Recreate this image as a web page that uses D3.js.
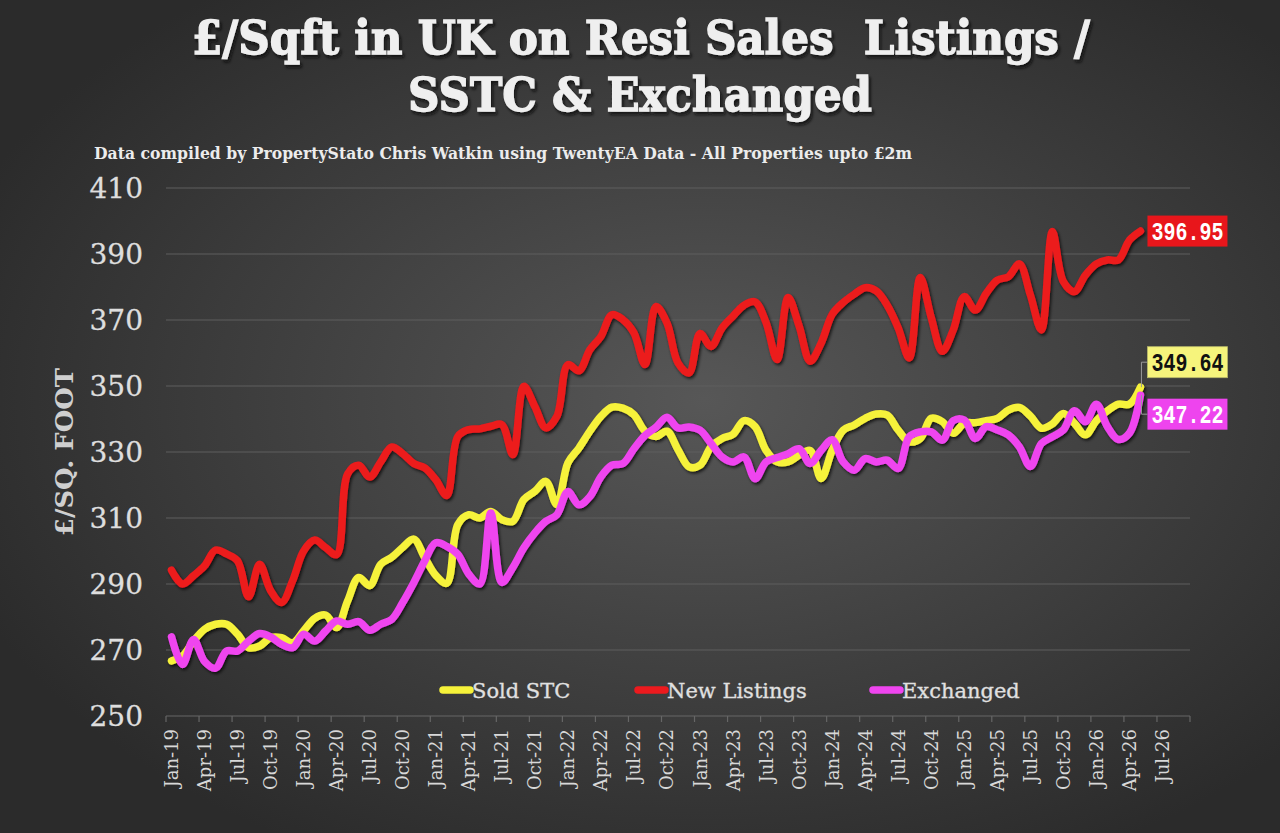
<!DOCTYPE html>
<html><head><meta charset="utf-8">
<script src="https://cdn.jsdelivr.net/npm/d3@7/dist/d3.min.js"></script>
<style>html,body{margin:0;padding:0;background:#3a3a3a;overflow:hidden}</style>
</head><body><svg id="c" width="1280" height="833"></svg>
<script>
const titleLines = ["£/Sqft in UK on Resi Sales  Listings /", "SSTC & Exchanged"];
const subtitle = "Data compiled by PropertyStato Chris Watkin using TwentyEA Data - All Properties upto £2m";
const yAxisTitle = "£/SQ. FOOT";
const seriesNames = ["Sold STC", "New Listings", "Exchanged"];
const seriesColors = ["#f6f23a", "#ec1a1e", "#ef45ef"];
const endLabels = ["349.64", "396.95", "347.22"];

// monthly values Jan-19 .. May-26
const soldSTC = [266.7,268.2,272.7,276.3,277.8,277.8,274.8,270.7,271.2,273.7,273.7,272.2,
  275.8,279.6,280.6,276.8,284.9,292,289.5,296,298.1,301.1,303.6,298,
  292.6,290.2,308,311,310,312,309.5,309,315.6,318.1,321.1,314,
  326.7,331.2,336.3,340.8,343.6,343.3,341.3,336.3,334.7,336.3,330.7,325.5,
  326,331.6,334.1,335.4,339.5,337.7,330.5,327,327,329,330.5,322,
  330.5,336.6,338.2,340.2,341.5,341.2,336.6,333.1,334.1,340.2,339.2,335.7,
  338.7,338.9,339.5,340.2,342.7,343.5,340.9,337.2,338.5,341.7,338.7,335.2,
  339.5,342.5,344.5,344.5,349.64];
const newListings = [294.2,290,292.5,295.5,300.3,299.1,297,286.1,296,288,284.4,291,
  300,303.3,301,298.9,323.4,326,322.4,327,331.5,329.5,326.5,325.2,
  321.6,316.8,334.7,336.8,337,337.8,338.3,329.2,349.9,343.8,337.3,340.8,
  356.5,354.6,361,365,371.6,370.1,366.1,356.5,374.1,369.1,357,354,
  365.9,362,367.6,371.2,374.5,375.5,369.2,358,376.8,368.2,357.5,363,
  371.7,375.3,377.8,379.8,378.8,374.5,367.6,358.5,382.9,370.7,360.5,367,
  377.1,373,378.1,382.1,383.1,387,377.6,367,396.8,381.6,378.6,383.6,
  387,388.2,388.2,394.2,396.95];
const exchanged = [274,265.6,273.2,266.5,264.5,269.7,269.7,272.7,275,274,271.7,270.7,
  274.8,272.7,275.8,278.8,277.8,278.6,276,277.8,279.3,284.4,290.4,297,
  302.5,301.4,299,293,290,311.5,290.5,295,301,305.5,309,311,
  318,314,316.5,322.5,326,326.5,331,335,337.5,340.5,337.3,337.6,
  336.6,332.6,328.5,327,328.5,321.9,327,328.3,329.5,331,326.5,330.5,
  333.7,327,324.5,328,327,327.5,325,334.6,336.1,336.1,333.6,339.5,
  339.7,334.1,337.7,336.7,335.2,331.6,325.6,332.6,334.6,336.7,342.5,339.2,
  344.5,337.7,333.8,335.7,347.22];

const yTicks = [250, 270, 290, 310, 330, 350, 370, 390, 410];
const xTickLabels = ["Jan-19","Apr-19","Jul-19","Oct-19","Jan-20","Apr-20","Jul-20","Oct-20",
  "Jan-21","Apr-21","Jul-21","Oct-21","Jan-22","Apr-22","Jul-22","Oct-22",
  "Jan-23","Apr-23","Jul-23","Oct-23","Jan-24","Apr-24","Jul-24","Oct-24",
  "Jan-25","Apr-25","Jul-25","Oct-25","Jan-26","Apr-26","Jul-26"];

// axis months: Jan-19 .. Sep-26 (category date axis)
const axisMonths = d3.timeMonth.range(new Date(2019, 0, 1), new Date(2026, 9, 1));
const dataMonths = axisMonths.slice(0, soldSTC.length);

const svg = d3.select("#c");
const W = 1280, H = 833;
const defs = svg.append("defs");
const rg = defs.append("radialGradient").attr("id", "bg").attr("cx", "55%").attr("cy", "48%").attr("r", "62%");
rg.append("stop").attr("offset", "0%").attr("stop-color", "#575757");
rg.append("stop").attr("offset", "100%").attr("stop-color", "#2b2b2b");
const sh = defs.append("filter").attr("id", "sh").attr("x", "-5%").attr("y", "-5%").attr("width", "110%").attr("height", "120%");
sh.append("feDropShadow").attr("dx", 1.5).attr("dy", 2).attr("stdDeviation", 1.5).attr("flood-color", "#000").attr("flood-opacity", 0.7);
const tsh = defs.append("filter").attr("id", "tsh");
tsh.append("feDropShadow").attr("dx", 2).attr("dy", 3).attr("stdDeviation", 1.5).attr("flood-color", "#111").attr("flood-opacity", 0.85);

svg.append("rect").attr("width", W).attr("height", H).attr("fill", "url(#bg)");

const x = d3.scaleBand().domain(axisMonths).range([166, 1190]).paddingInner(0).paddingOuter(0);
const bw = x.bandwidth();
const y = d3.scaleLinear().domain([250, 410]).range([716, 188]);
const xc = d => x(d) + bw / 2;

// gridlines
svg.append("g").selectAll("line").data(yTicks.filter(v => v > 250)).join("line")
  .attr("x1", 166).attr("x2", 1190).attr("y1", d => y(d)).attr("y2", d => y(d))
  .attr("stroke", "#5f5f5f").attr("stroke-width", 1.2);

// x axis line & ticks
const xa = svg.append("g");
xa.append("line").attr("x1", 166).attr("x2", 1190).attr("y1", y(250)).attr("y2", y(250))
  .attr("stroke", "#666").attr("stroke-width", 1.2);
const tickMonths = axisMonths.filter((d, i) => i % 3 === 0);
xa.selectAll("line.tk").data(tickMonths.map(d => x(d)).concat([x.range()[1]])).join("line").attr("class", "tk")
  .attr("x1", d => d).attr("x2", d => d).attr("y1", y(250)).attr("y2", y(250) + 6)
  .attr("stroke", "#666").attr("stroke-width", 1.2);
xa.selectAll("text").data(xTickLabels).join("text")
  .attr("transform", (d, i) => `translate(${xc(tickMonths[i])},729) rotate(-90)`)
  .attr("text-anchor", "end").attr("dy", "0.36em")
  .attr("font-family", "DejaVu Serif").attr("font-size", 18).attr("fill", "#d8d8d8")
  .text(d => d);

// y labels
svg.append("g").selectAll("text").data(yTicks).join("text")
  .attr("x", 143).attr("y", d => y(d)).attr("dy", "0.37em").attr("text-anchor", "end")
  .attr("font-family", "DejaVu Serif").attr("font-size", 28).attr("fill", "#dedede")
  .attr("stroke", "#dedede").attr("stroke-width", 0.3)
  .text(d => d);

// y axis title
svg.append("text").attr("transform", "translate(64,452) rotate(-90)")
  .attr("text-anchor", "middle").attr("dy", "0.36em")
  .attr("font-family", "DejaVu Serif").attr("font-weight", "bold").attr("font-size", 24)
  .attr("textLength", 168).attr("lengthAdjust", "spacingAndGlyphs")
  .attr("fill", "#cfcfcf").text(yAxisTitle);

// titles
const tl = svg.append("g").attr("filter", "url(#tsh)");
tl.append("text").attr("x", 641).attr("y", 54).attr("text-anchor", "middle")
  .attr("font-family", "DejaVu Serif").attr("font-weight", "bold").attr("font-size", 46)
  .attr("stroke", "#efefef").attr("stroke-width", 1.3)
  .attr("textLength", 898).attr("lengthAdjust", "spacingAndGlyphs").style("white-space", "pre")
  .attr("fill", "#efefef").text(titleLines[0]);
tl.append("text").attr("x", 640).attr("y", 111).attr("text-anchor", "middle")
  .attr("font-family", "DejaVu Serif").attr("font-weight", "bold").attr("font-size", 46)
  .attr("stroke", "#efefef").attr("stroke-width", 1.3)
  .attr("textLength", 464).attr("lengthAdjust", "spacingAndGlyphs")
  .attr("fill", "#efefef").text(titleLines[1]);
svg.append("text").attr("x", 94).attr("y", 159)
  .attr("font-family", "DejaVu Serif").attr("font-weight", "bold").attr("font-size", 16)
  .attr("textLength", 818).attr("lengthAdjust", "spacingAndGlyphs")
  .attr("fill", "#ececec").text(subtitle);

// lines
const series = [soldSTC, newListings, exchanged];
const line = d3.line().x((d, i) => xc(dataMonths[i])).y(d => y(d)).curve(d3.curveCatmullRom.alpha(0.5));
const lg = svg.append("g").attr("filter", "url(#sh)");
series.forEach((s, k) => {
  lg.append("path").attr("d", line(s)).attr("fill", "none")
    .attr("stroke", seriesColors[k]).attr("stroke-width", 7.5)
    .attr("stroke-linejoin", "round").attr("stroke-linecap", "round");
});

// legend
const legX = [443, 638, 873];
const leg = svg.append("g");
seriesNames.forEach((n, k) => {
  leg.append("line").attr("x1", legX[k]).attr("x2", legX[k] + 27).attr("y1", 690).attr("y2", 690)
    .attr("stroke", seriesColors[k]).attr("stroke-width", 7.5).attr("stroke-linecap", "round");
  leg.append("text").attr("x", legX[k] + 29).attr("y", 690).attr("dy", "0.36em")
    .attr("font-family", "DejaVu Serif").attr("font-size", 21).attr("fill", "#e0e0e0")
    .attr("stroke", "#e0e0e0").attr("stroke-width", 0.3).text(n);
});

// end labels
const last = dataMonths.length - 1;
const ex = xc(dataMonths[last]);
const boxFill = ["#f6f47c", "#e8161b", "#ee44ee"];
const boxText = ["#111", "#fff", "#fff"];
const boxShift = [-25, 0, 19];
series.forEach((s, k) => {
  const py = y(s[last]);
  const cy = py + boxShift[k];
  if (boxShift[k] !== 0) {
    svg.append("polyline").attr("points", `${ex + 1},${py} ${ex + 1},${cy} ${ex + 7},${cy}`)
      .attr("fill", "none").attr("stroke", "#9a9a9a").attr("stroke-width", 1);
  }
  svg.append("rect").attr("x", ex + 7).attr("y", cy - 15.5).attr("width", 80).attr("height", 31)
    .attr("fill", boxFill[k]).attr("stroke", k === 0 ? "#b8b86a" : "none").attr("stroke-width", 0.8);
  svg.append("text").attr("x", ex + 47).attr("y", cy).attr("dy", "0.36em").attr("text-anchor", "middle")
    .attr("font-family", "Liberation Mono").attr("font-weight", "bold").attr("font-size", 25)
    .attr("textLength", 72).attr("lengthAdjust", "spacingAndGlyphs")
    .attr("fill", boxText[k]).text(endLabels[k]);
});
</script></body></html>
